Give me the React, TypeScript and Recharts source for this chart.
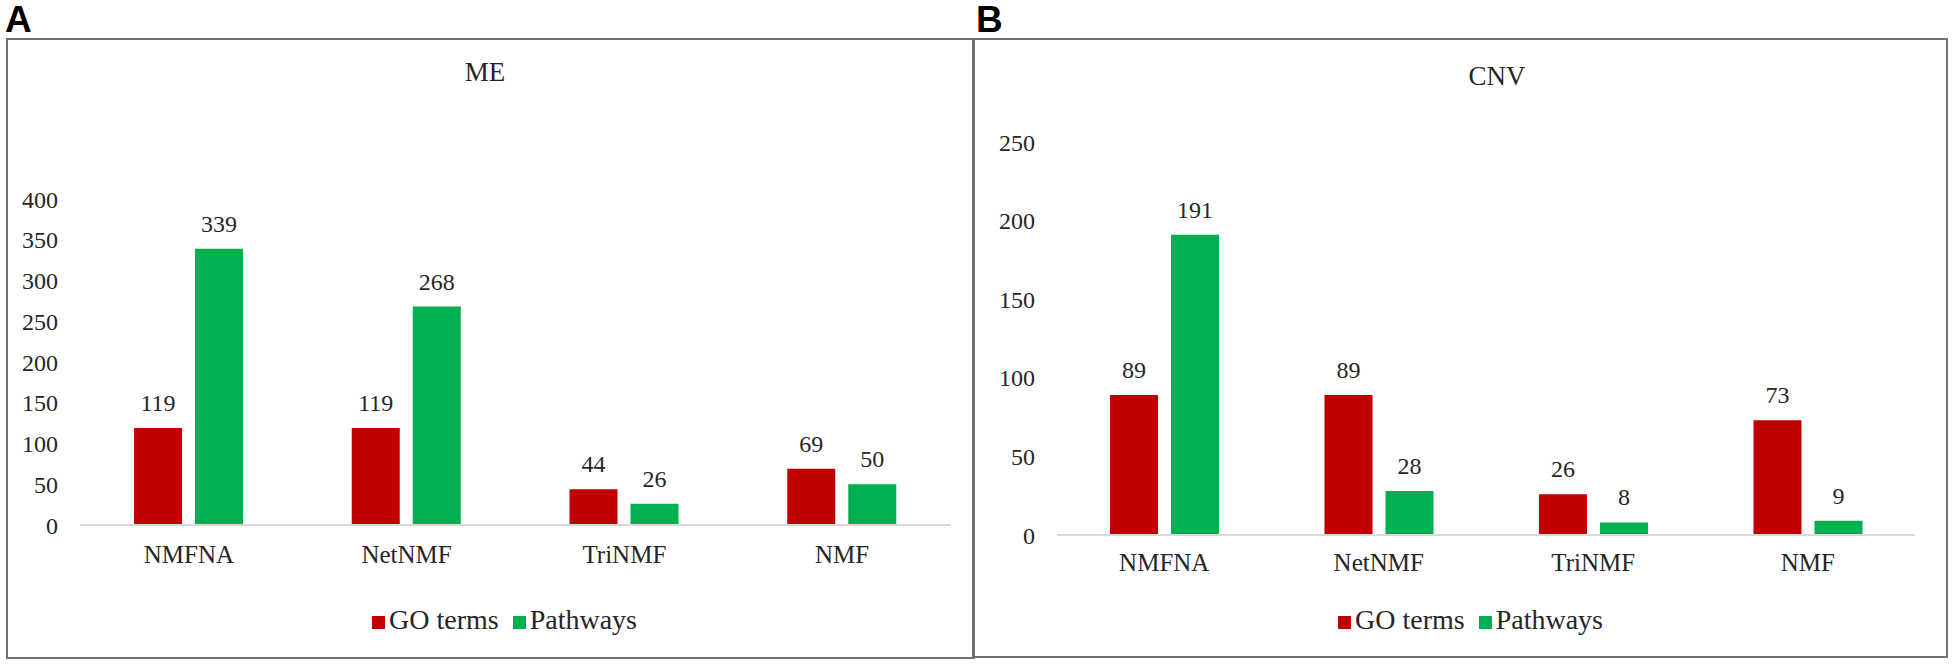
import React from "react";
import {
  BarChart,
  Bar,
  XAxis,
  YAxis,
  Legend,
  LabelList,
} from "recharts";

const methods = ["NMFNA", "NetNMF", "TriNMF", "NMF"];

const meGoTerms = [119, 119, 44, 69];
const mePathways = [339, 268, 26, 50];
const meTicks = [0, 50, 100, 150, 200, 250, 300, 350, 400];

const cnvGoTerms = [89, 89, 26, 73];
const cnvPathways = [191, 28, 8, 9];
const cnvTicks = [0, 50, 100, 150, 200, 250];

const RED = "#C00000";
const GREEN = "#00B050";
const TEXT = "#262626";
const SERIF = '"Liberation Serif", "Times New Roman", serif';

const buildRows = (go: number[], path: number[]) =>
  methods.map((name, i) => ({ name, go: go[i], path: path[i] }));

const meData = buildRows(meGoTerms, mePathways);
const cnvData = buildRows(cnvGoTerms, cnvPathways);

interface PanelProps {
  data: any[];
  ticks: number[];
  width: number;
  height: number;
  margin: { top: number; right: number; bottom: number; left: number };
  yWidth: number;
  xHeight: number;
  xTickMargin: number;
}

const legendText = (value: string) => (
  <span style={{ color: TEXT, fontFamily: SERIF, marginRight: 4 }}>{value}</span>
);

const Panel: React.FC<PanelProps> = (props): JSX.Element => {
  const top = props.ticks[props.ticks.length - 1];
  return (
    <BarChart
      width={props.width}
      height={props.height}
      data={props.data}
      margin={props.margin}
      barGap={13}
      style={{ fontFamily: SERIF }}
    >
      <XAxis
        dataKey="name"
        axisLine={{ stroke: "#d9d9d9", strokeWidth: 2 }}
        tickLine={false}
        height={props.xHeight}
        tickMargin={props.xTickMargin}
        tick={{ fontSize: 25, fill: TEXT, fontFamily: SERIF }}
      />
      <YAxis
        domain={[0, top]}
        ticks={props.ticks}
        axisLine={false}
        tickLine={false}
        width={props.yWidth}
        tickMargin={16}
        interval={0}
        tick={{ fontSize: 24, fill: TEXT, fontFamily: SERIF }}
      />
      <Legend
        verticalAlign="bottom"
        iconType="square"
        iconSize={13}
        formatter={legendText}
        wrapperStyle={{
          left: 365,
          width: "auto",
          height: 36,
          lineHeight: "36px",
          fontSize: 28,
          fontFamily: SERIF,
          whiteSpace: "nowrap",
        }}
      />
      <Bar dataKey="go" name="GO terms" fill={RED} barSize={48} isAnimationActive={false}>
        <LabelList dataKey="go" position="top" offset={17} fill={TEXT} fontSize={24} fontFamily={SERIF} />
      </Bar>
      <Bar dataKey="path" name="Pathways" fill={GREEN} barSize={48} isAnimationActive={false}>
        <LabelList dataKey="path" position="top" offset={17} fill={TEXT} fontSize={24} fontFamily={SERIF} />
      </Bar>
    </BarChart>
  );
};

const frame: React.CSSProperties = {
  position: "absolute",
  border: "2.5px solid #707070",
  boxSizing: "border-box",
};

const panelLetter: React.CSSProperties = {
  position: "absolute",
  fontFamily: '"Liberation Sans", Arial, sans-serif',
  fontWeight: "bold",
  fontSize: 37,
  lineHeight: "37px",
  color: "#000",
};

const title: React.CSSProperties = {
  position: "absolute",
  fontFamily: SERIF,
  fontSize: 27,
  lineHeight: "30px",
  color: TEXT,
  transform: "translate(-50%, -50%)",
};

const App: React.FC = (): JSX.Element => {
  return (
    <div
      style={{
        position: "absolute",
        left: 0,
        top: 0,
        width: 1954,
        height: 666,
        background: "#fff",
        overflow: "hidden",
      }}
    >
      <div style={{ ...panelLetter, left: 5, top: 1 }}>A</div>
      <div style={{ ...panelLetter, left: 976, top: 1 }}>B</div>

      <div style={{ ...frame, left: 6, top: 38, width: 969, height: 621 }} />
      <div style={{ ...frame, left: 972, top: 38, width: 976, height: 620 }} />

      <div style={{ ...title, left: 485, top: 72 }}>ME</div>
      <div style={{ ...title, left: 1497, top: 76 }}>CNV</div>

      <div style={{ position: "absolute", left: 7, top: 39 }}>
        <Panel
          data={meData}
          ticks={meTicks}
          width={966}
          height={619}
          margin={{ top: 160, right: 22, bottom: 20, left: 0 }}
          yWidth={73}
          xHeight={77}
          xTickMargin={14}
        />
      </div>
      <div style={{ position: "absolute", left: 973, top: 39 }}>
        <Panel
          data={cnvData}
          ticks={cnvTicks}
          width={974}
          height={618}
          margin={{ top: 103, right: 32, bottom: 19, left: 0 }}
          yWidth={84}
          xHeight={67}
          xTickMargin={12}
        />
      </div>
    </div>
  );
};

export default App;
